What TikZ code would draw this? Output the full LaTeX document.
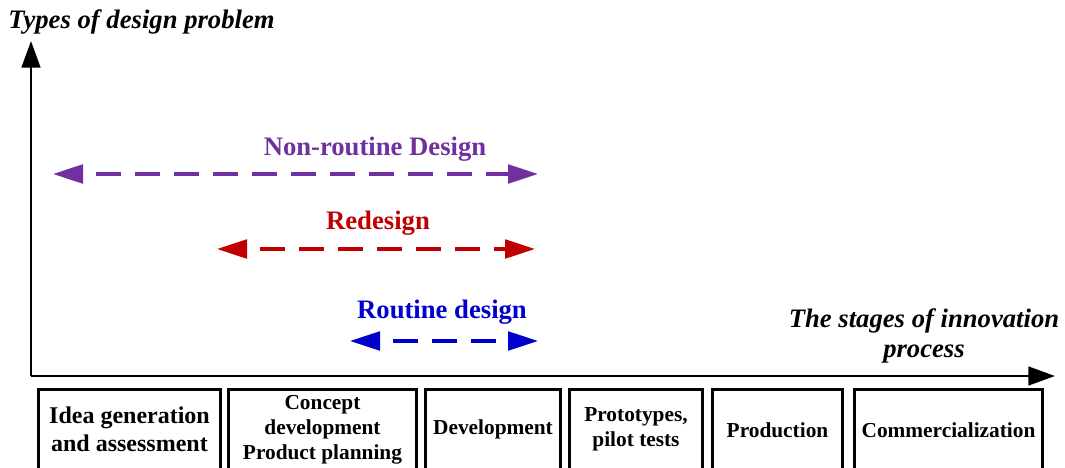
\documentclass[tikz,border=0pt]{standalone}
\usepackage{fontspec}
\setmainfont{Liberation Serif}
\usetikzlibrary{arrows.meta}
\definecolor{nonroutine}{RGB}{112,48,160}
\definecolor{redes}{RGB}{192,0,0}
\definecolor{routine}{RGB}{0,0,204}
\tikzset{
	axis/.style={line width=2pt, -{Triangle[length=20pt,width=14pt]}},
	span/.style={line width=2.5pt, dash pattern=on 18.75pt off 10.5pt, dash phase=18.75pt,
		{Triangle[length=22.5pt,width=14pt]}-{Triangle[length=22.5pt,width=14pt]}},
	stage/.style={draw, line width=2pt, minimum height=60.4pt, inner sep=0pt, align=center,
		font=\bfseries\fontsize{16}{18.75}\selectfont},
	lbl/.style={inner sep=0pt, font=\bfseries\fontsize{20}{22.5}\selectfont},
	ttl/.style={inner sep=0pt, align=center, font=\bfseries\itshape\fontsize{20}{22.5}\selectfont}
}
\begin{document}
\begin{tikzpicture}[x=0.75pt,y=-0.75pt]
	\useasboundingbox (0,0) rectangle (1065,468);
	\clip (0,0) rectangle (1065,468);

	% axes
	\coordinate (o) at (31,376);
	\coordinate (y) at (31,41);
	\coordinate (x) at (1055,376);
	\draw[axis] (o) -- (y);
	\draw[axis] (o) -- (x);
	\node[ttl, anchor=base west] (ty) at (8,28) {Types of design problem};
	\node[ttl] (tx) at (924,336) {The stages of innovation\\process};

	% design types
	\node[lbl, anchor=base, text=nonroutine] (n) at (375,155) {Non-routine Design};
	\coordinate (n0) at (53,174);
	\coordinate (n1) at (538,174);
	\draw[span, nonroutine] (n0) -- (n1);

	\node[lbl, anchor=base, text=redes] (r) at (378,229) {Redesign};
	\coordinate (r0) at (217,249);
	\coordinate (r1) at (535,249);
	\draw[span, redes] (r0) -- (r1);

	\node[lbl, anchor=base, text=routine] (b) at (442,318) {Routine design};
	\coordinate (b0) at (350,341);
	\coordinate (b1) at (538,341);
	\draw[span, routine] (b0) -- (b1);

	% stages
	\node[stage, minimum width=136.5pt, font=\bfseries\fontsize{18}{21}\selectfont]
		(s1) at (129.5,429.75) {Idea generation\\and assessment};
	\node[stage, minimum width=141pt]	(s2) at (322.5,429.75) {Concept\\development\\Product planning};
	\node[stage, minimum width=101.25pt]	(s3) at (493,429.75) {Development};
	\node[stage, minimum width=99.75pt]	(s4) at (636,429.75) {Prototypes,\\pilot tests};
	\node[stage, minimum width=97.5pt]	(s5) at (777.5,429.75) {Production};
	\node[stage, minimum width=141pt]	(s6) at (948.5,429.75) {Commercialization};
\end{tikzpicture}
\end{document}
